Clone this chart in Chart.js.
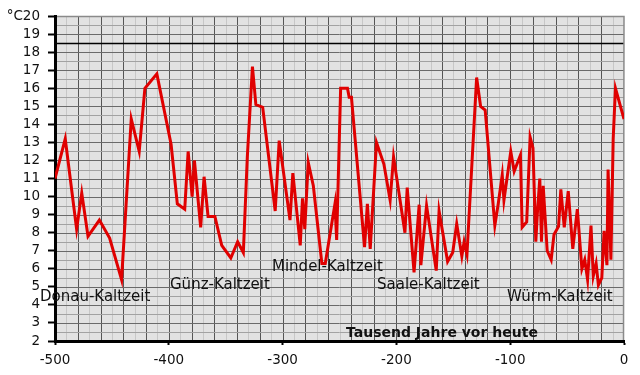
<!DOCTYPE html>
<html>
<head>
<meta charset="utf-8">
<script src="https://cdn.jsdelivr.net/npm/chart.js@4/dist/chart.umd.min.js"></script>
<style>
html,body{margin:0;padding:0;background:#fff;}
#wrap{width:640px;height:375px;position:relative;}
</style>
</head>
<body>
<div id="wrap"><canvas id="c" width="640" height="375"></canvas></div>
<script>
// Thousand years before present
const years = [-500,-491,-481,-476.5,-471,-461,-452,-441.5,-433,-426,-421,-410.5,-398,-392.5,-386,-383,-379.5,-377.5,-372,-369,-365.5,-359.5,-353.5,-345.5,-339.5,-334.5,-331,-326.5,-323.5,-317.5,-306.5,-303,-293.5,-291,-284.5,-282.5,-280.5,-277.5,-273,-265.5,-262.5,-254,-252.5,-249,-243,-241.5,-239.5,-228,-225.5,-223,-217.5,-211,-205.5,-202.5,-192.5,-190.5,-184.5,-180,-178.5,-173.5,-165,-162.5,-155,-150.5,-147,-142.5,-140.5,-138,-129.5,-126,-122,-113.5,-110.5,-107,-105.5,-99.5,-96.5,-91,-89.5,-85.5,-82.5,-80,-77.5,-76,-74,-72.5,-71,-67.5,-64,-61.5,-57.5,-55.5,-52.5,-49,-45,-41,-37,-34.5,-32,-29,-27,-24.5,-22.5,-19.5,-17.5,-15,-14,-11.5,-9.5,-7.5,0];
// Temperature (°C)
const temps = [11.0,13.2,8.2,10.2,7.8,8.7,7.7,5.4,14.3,12.5,16.0,16.8,12.9,9.6,9.3,12.5,10.0,12.0,8.3,11.1,8.9,8.9,7.3,6.6,7.5,6.9,12.2,17.2,15.1,14.95,9.2,13.1,8.7,11.3,7.3,9.9,8.2,11.9,10.6,6.3,6.3,9.6,7.6,16.0,16.0,15.5,15.5,7.2,9.6,7.1,13.0,11.8,9.8,12.2,8.0,10.5,5.8,9.55,6.2,9.5,5.9,9.2,6.4,6.9,8.5,6.7,7.5,6.8,16.6,15.0,14.8,8.4,9.6,11.2,9.8,12.5,11.4,12.3,8.3,8.6,13.3,12.7,7.5,9.2,11.0,7.5,10.6,7.0,6.5,7.9,8.35,10.4,8.3,10.3,7.1,9.3,6.0,6.5,5.4,8.4,5.6,6.3,5.1,5.5,8.1,6.2,11.5,6.5,13.2,16.0,14.3];
// Glacial period labels
const periodNames = ['Donau-Kaltzeit','Günz-Kaltzeit','Mindel-Kaltzeit','Saale-Kaltzeit','Würm-Kaltzeit'];
const axisTitle = 'Tausend Jahre vor heute';
const unitLabel = '°C';

const FONT = '"DejaVu Sans", Verdana, sans-serif';

const bgGrid = {
  id: 'bgGrid',
  beforeDraw(chart) {
    const {ctx, chartArea: a, scales: {x, y}} = chart;
    ctx.save();
    ctx.fillStyle = '#e2e2e2';
    ctx.fillRect(a.left, a.top, a.right - a.left, a.bottom - a.top);
    // vertical lines every 10 (every 20 darker)
    for (let t = -490; t < 0; t += 10) {
      const px = Math.round(x.getPixelForValue(t)) + 0.5;
      ctx.beginPath();
      if (t % 20 === 0) { ctx.strokeStyle = '#555'; }
      else { ctx.strokeStyle = 'rgba(150,150,150,0.35)'; }
      ctx.lineWidth = 1;
      ctx.moveTo(px, a.top); ctx.lineTo(px, a.bottom); ctx.stroke();
    }
    // horizontal lines every 0.5
    for (let v = 2.5; v < 20; v += 0.5) {
      const py = Math.round(y.getPixelForValue(v)) + 0.5;
      ctx.beginPath();
      if (Math.abs(v - 18.5) < 0.01) { ctx.strokeStyle = '#000'; ctx.lineWidth = 1.5; }
      else if (Number.isInteger(v)) { ctx.strokeStyle = '#6a6a6a'; ctx.lineWidth = 1; }
      else { ctx.strokeStyle = '#a2a2a2'; ctx.lineWidth = 1; }
      ctx.moveTo(a.left, py); ctx.lineTo(a.right, py); ctx.stroke();
    }
    // top & right border
    ctx.strokeStyle = '#8a8a8a'; ctx.lineWidth = 1.5;
    ctx.beginPath();
    ctx.moveTo(a.left, a.top + 0.5); ctx.lineTo(a.right, a.top + 0.5);
    ctx.lineTo(a.right - 0.5, a.bottom); ctx.stroke();
    ctx.restore();
  }
};

const labelsPlugin = {
  id: 'labelsPlugin',
  afterDatasetsDraw(chart) {
    const {ctx} = chart;
    ctx.save();
    ctx.fillStyle = '#111';
    ctx.textBaseline = 'alphabetic';
    ctx.textAlign = 'left';
    ctx.font = '15px ' + FONT;
    const pos = [[40,301],[170,289],[272,271],[377,289],[507,301]];
    periodNames.forEach((n, i) => ctx.fillText(n, pos[i][0], pos[i][1]));
    ctx.font = 'bold 14px ' + FONT;
    ctx.fillText(axisTitle, 346, 337);
    ctx.restore();
  }
};

new Chart(document.getElementById('c'), {
  type: 'line',
  data: {
    datasets: [{
      data: years.map((t, i) => ({x: t, y: temps[i]})),
      borderColor: '#e00000',
      borderWidth: 3,
      pointRadius: 0,
      tension: 0,
      fill: false
    }]
  },
  options: {
    responsive: false,
    animation: false,
    devicePixelRatio: 1,
    layout: {padding: {top: 14, right: 16, left: 0, bottom: 0}},
    plugins: {legend: {display: false}, tooltip: {enabled: false}},
    scales: {
      x: {
        type: 'linear', min: -500, max: 0,
        ticks: {stepSize: 100, autoSkip: false, maxRotation: 0, color: '#111', padding: 7, font: {family: FONT, size: 13.5}},
        grid: {drawOnChartArea: false, drawTicks: true, tickLength: 4, tickColor: '#000', tickWidth: 2},
        border: {color: '#000', width: 3},
        afterFit(s) { s.height = 34; }
      },
      y: {
        type: 'linear', min: 2, max: 20,
        ticks: {stepSize: 1, autoSkip: false, color: '#111', padding: 8, font: {family: FONT, size: 13.5},
          callback: v => v === 20 ? unitLabel + '20' : String(v)},
        grid: {drawOnChartArea: false, drawTicks: true, tickLength: 7, tickColor: '#000', tickWidth: 2},
        border: {color: '#000', width: 3},
        afterFit(s) { s.width = 55; }
      }
    }
  },
  plugins: [bgGrid, labelsPlugin]
});
</script>
</body>
</html>
